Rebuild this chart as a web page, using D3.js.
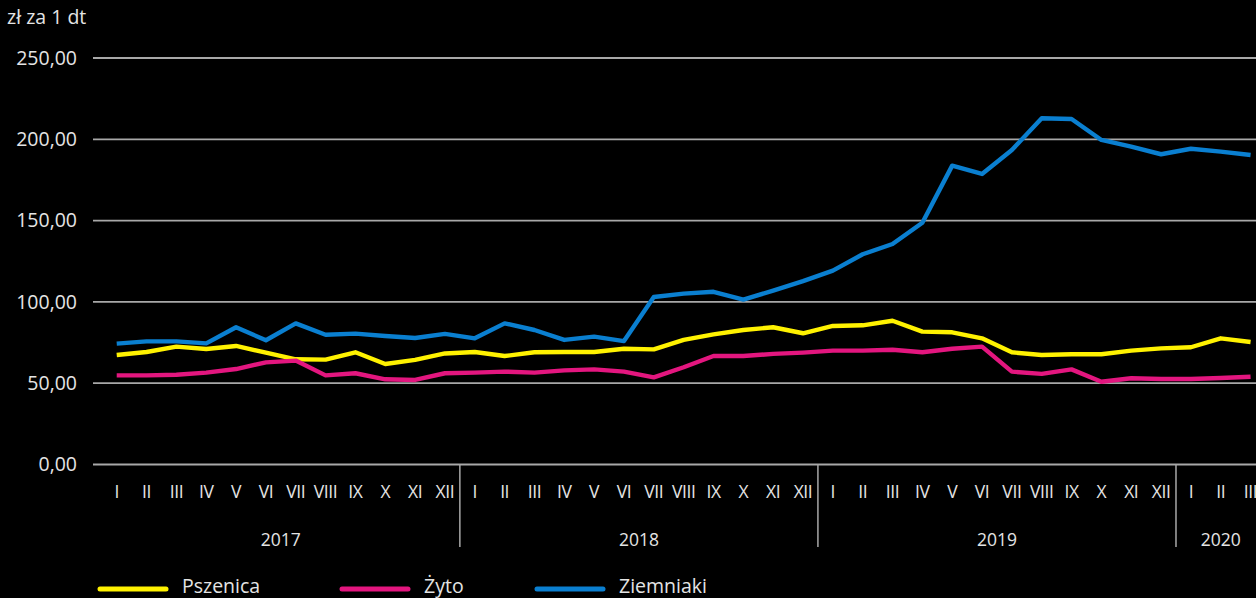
<!DOCTYPE html>
<html>
<head>
<meta charset="utf-8">
<script src="https://cdn.jsdelivr.net/npm/d3@7"></script>
<style>
  html, body { margin: 0; padding: 0; background: #000; overflow: hidden; }
  svg { display: block; font-family: "Open Sans", "Noto Sans", sans-serif; }
</style>
</head>
<body>
<svg id="chart" width="1256" height="598"></svg>
<script>
// ---- data ----
const monthNames = ["I","II","III","IV","V","VI","VII","VIII","IX","X","XI","XII"];
const years = ["2017","2018","2019","2020"];
const monthsPerYear = [12, 12, 12, 3];
const yTicks = [0, 50, 100, 150, 200, 250];
const seriesNames = ["Pszenica", "Żyto", "Ziemniaki"];
const seriesColors = ["#fff200", "#e3167f", "#0a7fd0"];

const pszenica = [67.0,68.9,72.2,70.7,72.6,68.5,64.4,64.2,68.7,61.5,64.0,68.0,
                  68.9,66.4,68.7,68.9,68.9,70.9,70.5,76.3,79.7,82.4,84.1,80.4,
                  84.9,85.3,88.1,81.4,81.0,77.3,68.7,67.0,67.5,67.5,69.7,71.1,
                  71.8,77.3,75.0];
const zyto = [54.5,54.5,54.9,56.2,58.4,62.5,63.6,54.5,55.8,52.1,51.7,55.8,
              56.2,56.8,56.2,57.6,58.2,56.8,53.3,59.5,66.4,66.4,67.7,68.5,
              69.7,69.7,70.3,68.7,70.9,72.2,56.8,55.4,58.2,50.6,52.7,52.3,
              52.3,52.9,53.7];
const ziemniaki = [74.0,75.4,75.4,74.2,84.1,76.1,86.5,79.5,80.2,78.7,77.5,80.0,
                   77.3,86.5,82.4,76.3,78.3,75.6,102.7,104.8,105.9,101.1,106.6,112.5,
                   118.9,129.0,135.3,148.4,183.5,178.4,193.1,212.6,212.2,199.3,195.2,190.5,
                   193.9,192.1,190.0];
const seriesValues = [pszenica, zyto, ziemniaki];

// ---- categories ----
const cats = [];
years.forEach((y, yi) => {
  for (let m = 0; m < monthsPerYear[yi]; m++) cats.push({ key: y + "-" + m, year: y, label: monthNames[m] });
});

// ---- layout ----
const svg = d3.select("#chart");
const W = 1256, H = 598;
const xLeft = 101.8, xRight = 1265.5;
const gridLeft = 93;
const yTop = 57.5, yBottom = 464;
const textColor = "#e4e4e4";
const gridColor = "#a8a8a8";

const x = d3.scaleBand().domain(cats.map(d => d.key)).range([xLeft, xRight]).paddingInner(0).paddingOuter(0);
const y = d3.scaleLinear().domain([0, 250]).range([yBottom, yTop]);
const cx = k => x(k) + x.bandwidth() / 2;

svg.append("rect").attr("width", W).attr("height", H).attr("fill", "#000");

// unit label
svg.append("text").attr("x", 7).attr("y", 19).attr("dominant-baseline", "middle")
  .attr("fill", textColor).attr("font-size", 19.5).text("zł za 1 dt");

// y axis with gridlines
const yAxis = d3.axisLeft(y).tickValues(yTicks)
  .tickFormat(d => d3.format(".2f")(d).replace(".", ","))
  .tickSize(-(W - gridLeft)).tickPadding(16);
const gy = svg.append("g").attr("transform", `translate(${gridLeft},0)`).call(yAxis);
gy.select(".domain").remove();
gy.selectAll(".tick line").attr("stroke", gridColor).attr("stroke-width", 1.8);
gy.selectAll(".tick text").attr("fill", textColor).attr("font-size", 19.5)
  .attr("font-family", "'Open Sans', sans-serif").attr("dy", "0.35em");

// x axis month labels
const xAxis = d3.axisBottom(x).tickFormat(k => cats.find(c => c.key === k).label).tickSize(0).tickPadding(0);
const gx = svg.append("g").attr("transform", `translate(0,${yBottom})`).call(xAxis);
gx.select(".domain").remove();
gx.selectAll(".tick text").attr("fill", textColor).attr("font-size", 17.5)
  .attr("font-family", "'Open Sans', sans-serif").attr("y", 28).attr("dy", "0.35em")
  .attr("letter-spacing", "-0.4");

// year separators and labels
let start = 0;
years.forEach((yr, yi) => {
  const firstKey = cats[start].key;
  const lastKey = cats[start + monthsPerYear[yi] - 1].key;
  const x0 = x(firstKey), x1 = x(lastKey) + x.bandwidth();
  if (yi > 0) {
    svg.append("line").attr("x1", x0).attr("x2", x0).attr("y1", yBottom).attr("y2", 547)
      .attr("stroke", gridColor).attr("stroke-width", 1.5);
  }
  svg.append("text").attr("x", (x0 + x1) / 2).attr("y", 541).attr("dominant-baseline", "middle")
    .attr("text-anchor", "middle").attr("fill", textColor).attr("font-size", 17.5).text(yr);
  start += monthsPerYear[yi];
});

// lines
const line = d3.line().x((d, i) => cx(cats[i].key)).y(d => y(d));
seriesValues.forEach((vals, si) => {
  svg.append("path").datum(vals).attr("d", line).attr("fill", "none")
    .attr("stroke", seriesColors[si]).attr("stroke-width", 4.4)
    .attr("stroke-linejoin", "round").attr("stroke-linecap", "butt");
});

// legend
const legendX = [100, 342, 537];
seriesNames.forEach((name, si) => {
  const g = svg.append("g").attr("transform", `translate(${legendX[si]},589)`);
  g.append("line").attr("x1", 0).attr("x2", 66).attr("y1", 0).attr("y2", 0)
    .attr("stroke", seriesColors[si]).attr("stroke-width", 5).attr("stroke-linecap", "round");
  g.append("text").attr("x", 82).attr("y", 4).attr("fill", textColor).attr("font-size", 19.5).text(name);
});
</script>
</body>
</html>
